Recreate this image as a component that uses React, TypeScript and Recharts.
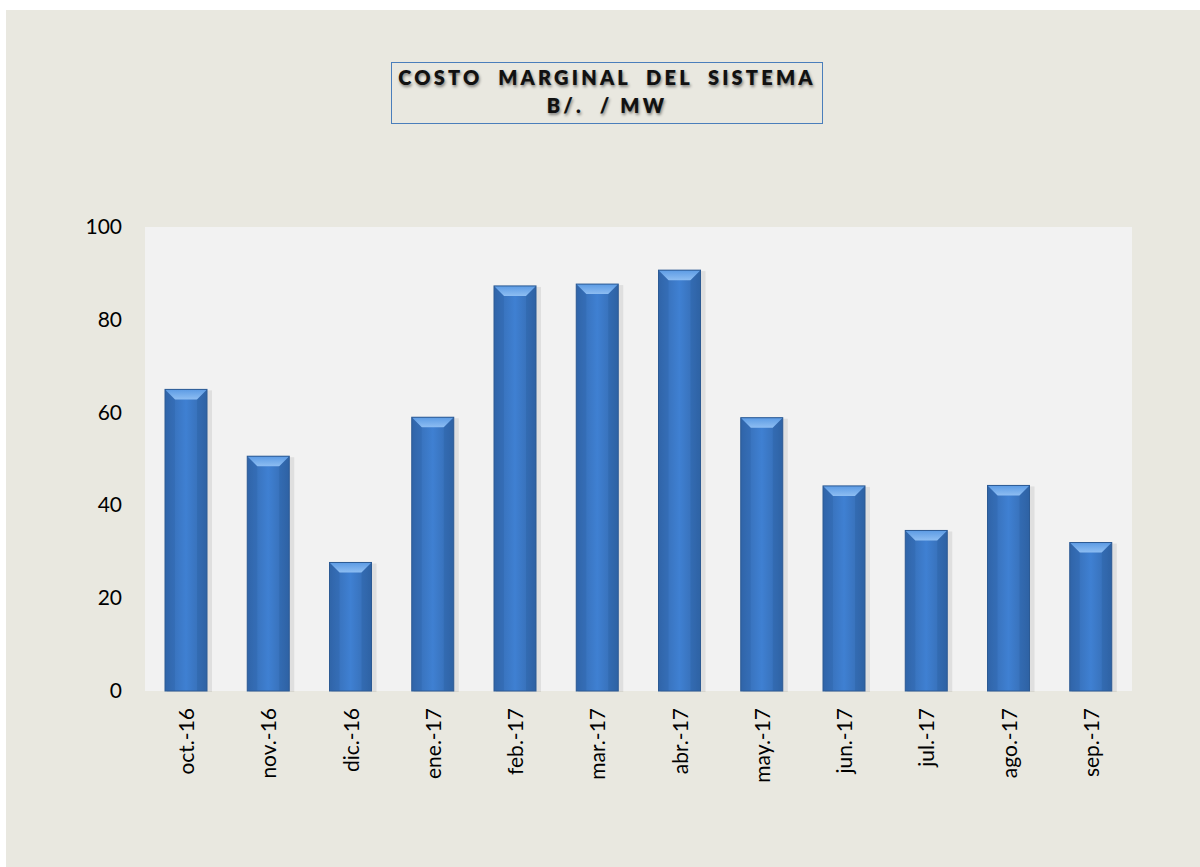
import React from "react";
import { BarChart, Bar, XAxis, YAxis, CartesianGrid } from "recharts";

const categories = ["oct.-16", "nov.-16", "dic.-16", "ene.-17", "feb.-17", "mar.-17", "abr.-17", "may.-17", "jun.-17", "jul.-17", "ago.-17", "sep.-17"];
const costValues = [65.0, 50.6, 27.7, 59.0, 87.3, 87.7, 90.7, 58.9, 44.2, 34.6, 44.3, 32.0];
const yTicks = [0, 20, 40, 60, 80, 100];
const titleLines = ["COSTO  MARGINAL  DEL  SISTEMA", "B/.  / MW"];

const data = categories.map((c, i) => ({ name: c, value: costValues[i] }));

const FONT = "Lato, 'Open Sans', 'Liberation Sans', sans-serif";

const BevelBar = (props: any) => {
  const { x, y, width, height } = props;
  if (!height || height <= 0) return null;
  const b = Math.min(10, height / 2);
  return (
    <g>
      <rect x={x + 2} y={y + 1} width={width + 3} height={height} fill="#000" opacity={0.08} />
      <rect x={x} y={y} width={width} height={height} fill="url(#barGrad)" />
      <polygon
        points={`${x},${y} ${x + width},${y} ${x + width - b},${y + b} ${x + b},${y + b}`}
        fill="url(#bevelGrad)"
      />
      <polygon points={`${x},${y} ${x + b},${y + b} ${x + b},${y + height}  ${x},${y + height}`} fill="#1F4E8C" opacity={0.16} />
      <polygon points={`${x + width},${y} ${x + width - b},${y + b} ${x + width - b},${y + height} ${x + width},${y + height}`} fill="#1F4E8C" opacity={0.2} />
      <rect x={x} y={y} width={width} height={height} fill="none" stroke="#2C5A94" strokeWidth={1} />
    </g>
  );
};

const YTick = (props: any) => {
  const { y, payload } = props;
  return (
    <text x={122} y={y} dy={7} textAnchor="end" fontSize={21} fill="#000" fontFamily={FONT}>
      {payload.value}
    </text>
  );
};

const XTick = (props: any) => {
  const { x, payload } = props;
  return (
    <text
      x={0}
      y={0}
      transform={`translate(${x + 8},708) rotate(-90)`}
      textAnchor="end"
      fontSize={21}
      fill="#000"
      fontFamily={FONT}
    >
      {payload.value}
    </text>
  );
};

export default function App() {
  return (
    <div style={{ position: "absolute", left: 0, top: 0, width: 1200, height: 867, background: "#fff", overflow: "hidden" }}>
      <div style={{ position: "absolute", left: 6, top: 10, width: 1194, height: 857, background: "#E9E8E0" }} />
      <div
        style={{
          position: "absolute",
          left: 391,
          top: 62,
          width: 432,
          height: 62,
          border: "1.5px solid #4A7EBB",
          boxSizing: "border-box",
          textAlign: "center",
          fontFamily: FONT,
          fontWeight: 800,
          fontSize: 20,
          letterSpacing: 3.2,
          lineHeight: "28px",
          paddingTop: 0,
          color: "#111",
          whiteSpace: "pre",
          textShadow: "1px 2px 3px rgba(0,0,0,0.45)",
        }}
      >
        <div>{titleLines[0]}</div>
        <div>{titleLines[1]}</div>
      </div>
      <div style={{ position: "absolute", left: 0, top: 0 }}>
        <BarChart
          width={1200}
          height={867}
          data={data}
          margin={{ top: 227, right: 68, bottom: 86, left: 85 }}
          barCategoryGap="25%"
        >
          <defs>
            <linearGradient id="barGrad" x1="0" y1="0" x2="1" y2="0">
              <stop offset="0%" stopColor="#3469AE" />
              <stop offset="50%" stopColor="#3F80D2" />
              <stop offset="100%" stopColor="#3367AA" />
            </linearGradient>
            <linearGradient id="bevelGrad" x1="0" y1="0" x2="0" y2="1">
              <stop offset="0%" stopColor="#5C9BE4" />
              <stop offset="100%" stopColor="#8DBDF2" />
            </linearGradient>
          </defs>
          <CartesianGrid horizontal={false} vertical={false} fill="#F2F2F2" stroke="none" />
          <XAxis dataKey="name" height={90} axisLine={false} tickLine={false} tick={<XTick />} interval={0} />
          <YAxis
            width={60}
            domain={[0, 100]}
            ticks={yTicks}
            axisLine={false}
            tickLine={false}
            tick={<YTick />}
            interval={0}
          />
          <Bar dataKey="value" shape={<BevelBar />} isAnimationActive={false} barSize={42} />
        </BarChart>
      </div>
    </div>
  );
}
